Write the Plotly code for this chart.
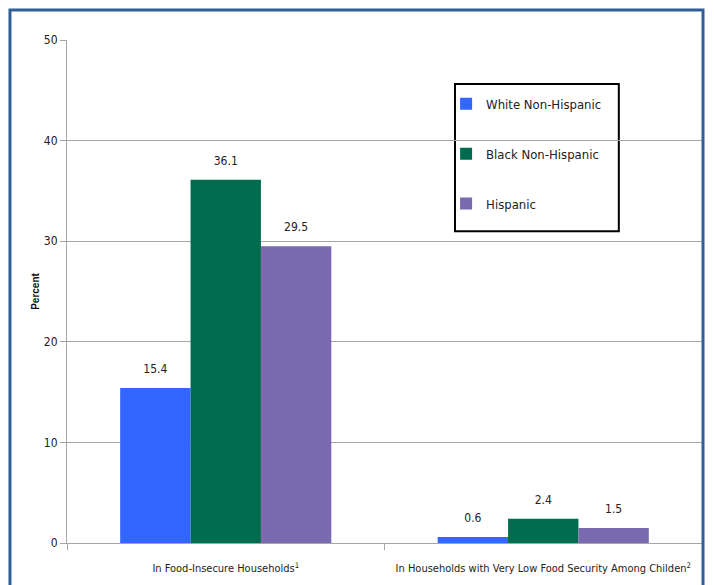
import plotly.graph_objects as go

categories = ["In Food-Insecure Households<sup>1</sup>",
              "In Households with Very Low Food Security Among Childen<sup>2</sup>"]
series_names = ["White Non-Hispanic", "Black Non-Hispanic", "Hispanic"]
white_vals = [15.4, 0.6]
black_vals = [36.1, 2.4]
hisp_vals = [29.5, 1.5]
colors = ["#3366ff", "#006b4f", "#7a6bb0"]
y_ticks = [0, 10, 20, 30, 40, 50]

FONT = "DejaVu Sans Condensed, Liberation Sans Narrow, Liberation Sans, Arial"
GAP = 0.335

fig = go.Figure()
for i, (name, vals, col) in enumerate(zip(series_names, [white_vals, black_vals, hisp_vals], colors)):
    fig.add_trace(go.Bar(
        x=categories, y=vals, name=name, legendgroup=name,
        offsetgroup=str(i),
        marker=dict(color=col, line=dict(width=0)),
    ))
for i, vals in enumerate([white_vals, black_vals, hisp_vals]):
    fig.add_trace(go.Scatter(
        x=categories, y=vals, mode="markers+text", showlegend=False,
        offsetgroup=str(i), hoverinfo="skip",
        marker=dict(size=18, opacity=0),
        text=[f"{v:.1f}" for v in vals], textposition="top center",
        textfont=dict(family=FONT, size=12, color="#222222"),
        cliponaxis=False,
    ))

fig.update_layout(
    width=714, height=585,
    margin=dict(l=67, r=12, t=40, b=42),
    paper_bgcolor="white", plot_bgcolor="white",
    barmode="group", bargap=GAP, bargroupgap=0,
    scattermode="group", scattergap=GAP,
    font=dict(family=FONT, size=12, color="#222222"),
    showlegend=True,
    legend=dict(
        x=0.597, y=0.903, xanchor="left", yanchor="top",
        borderwidth=0, bgcolor="rgba(0,0,0,0)",
        font=dict(family=FONT, size=13, color="#222222"),
        tracegroupgap=30, itemwidth=30,
    ),
    xaxis=dict(
        showgrid=False, showline=True, linecolor="#a6a6a6", linewidth=1,
        ticks="outside", tickson="boundaries", ticklen=6, tickcolor="#a6a6a6",
        tickangle=0, automargin=False, ticklabelstandoff=15,
        tickfont=dict(family=FONT, size=11, color="#222222"),
    ),
    yaxis=dict(
        range=[0, 50], tickvals=y_ticks, showgrid=True, gridcolor="#a6a6a6",
        gridwidth=1, showline=True, linecolor="#a6a6a6", linewidth=1,
        ticks="outside", ticklen=6, tickcolor="#a6a6a6", automargin=False,
        tickfont=dict(family=FONT, size=12, color="#222222"),
        zeroline=False,
        title=dict(text="<b>Percent</b>", font=dict(family="Arial", size=10, color="#111111"),
                   standoff=2),
    ),
)

# legend frame
fig.add_shape(type="rect", xref="paper", yref="paper",
              x0=0.611, x1=0.869, y0=0.6197, y1=0.9125,
              line=dict(color="black", width=2), fillcolor="white", layer="below")

# outer blue frame
fig.add_shape(type="rect", xref="paper", yref="paper",
              x0=-0.0898, x1=1.0016, y0=-0.3, y1=1.0596,
              line=dict(color="#2f5f98", width=3), fillcolor="rgba(0,0,0,0)", layer="above")

fig.write_html("out.html")
